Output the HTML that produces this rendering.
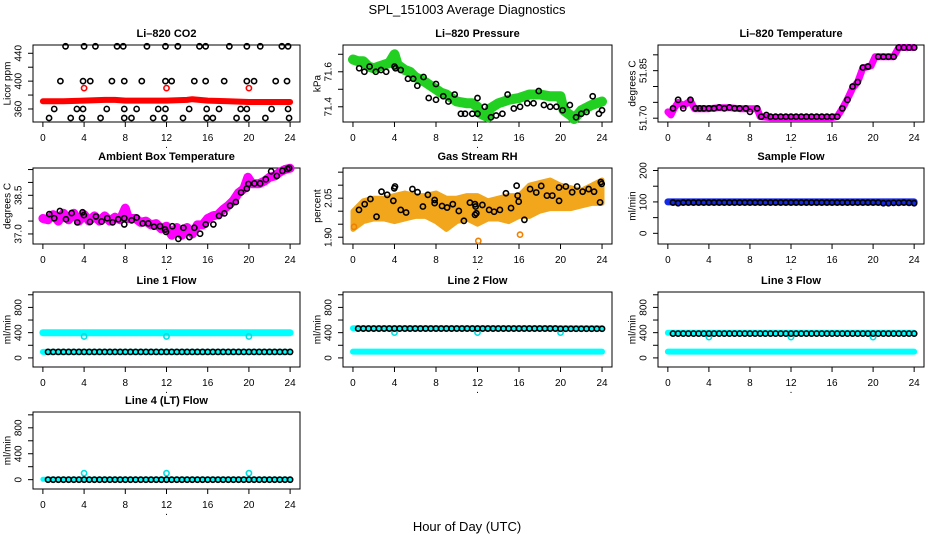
<!DOCTYPE html>
<html><head><meta charset="utf-8"><style>
html,body{margin:0;padding:0;background:#fff;}
svg{display:block;font-family:"Liberation Sans",sans-serif;}
</style></head><body>
<svg id="chart" width="936" height="540" viewBox="0 0 936 540" xmlns="http://www.w3.org/2000/svg">
<text x="467" y="14" font-size="13" text-anchor="middle">SPL_151003  Average Diagnostics</text>
<text x="467" y="531" font-size="13" text-anchor="middle">Hour of Day (UTC)</text>
</svg>
<script>
// ---------- data ----------
const xTicks = [0,4,8,12,16,20,24];
const halfHours = [0.5,1,1.5,2,2.5,3,3.5,4,4.5,5,5.5,6,6.5,7,7.5,8,8.5,9,9.5,10,10.5,11,11.5,12,12.5,13,13.5,14,14.5,15,15.5,16,16.5,17,17.5,18,18.5,19,19.5,20,20.5,21,21.5,22,22.5,23,23.5,24];

// CO2
const co2BandHours = [0,2,4,6,7,8,10,12,14,14.5,16,18,20,22,24];
const co2BandValues = [371,371,372,373,373,372,372,372,373,374,372,371,370,370,370];
const co2OutHours = [4,12,20];
const co2OutValues = [390,390,390];
const co2CircHours = [2.2,4.0,5.1,7.2,7.8,10.1,11.9,13.1,15.2,15.8,18.1,19.8,21.1,23.2,23.8, 1.7,3.9,4.6,6.7,7.9,9.6,11.9,12.5,14.7,15.8,17.6,19.8,20.5,22.6,23.7, 1.1,3.3,3.9,6.2,7.9,9.1,11.2,11.9,14.2,15.9,17.1,19.2,19.8,22.2,23.8, 0.6,2.7,3.8,5.6,7.9,8.6,10.7,11.8,13.6,15.9,16.5,18.8,19.8,21.6,23.9];
const co2CircValues = [450,450,450,450,450,450,450,450,450,450,450,450,450,450,450, 400,400,400,400,400,400,400,400,400,400,400,400,400,400,400, 360,360,360,360,360,360,360,360,360,360,360,360,360,360,360, 347,347,347,347,347,347,347,347,347,347,347,347,347,347,347];

// Pressure
const presBandHours = [0,0.5,1,1.5,2,2.5,3,3.5,4,4.3,5,5.5,6,7,7.5,8,8.5,9,9.5,10,11,11.5,12,12.3,13,13.2,14,15,16,17,18,19,20,20.3,21,21.3,22,23,24];
const presBandValues = [71.67,71.66,71.66,71.63,71.62,71.63,71.64,71.65,71.70,71.64,71.61,71.60,71.57,71.54,71.52,71.50,71.48,71.47,71.45,71.43,71.42,71.42,71.40,71.36,71.34,71.39,71.42,71.44,71.45,71.47,71.47,71.46,71.46,71.38,71.35,71.33,71.38,71.41,71.43];
const presCircHours = [0.6,1.1,1.6,2.2,2.7,3.2,4.0,4.1,4.6,5.3,5.8,6.2,6.8,7.3,8.0,8.0,8.7,9.2,9.8,10.4,10.8,11.5,12,12,12.7,13.3,13.8,14.4,14.9,15.5,16.1,16.8,17.4,17.9,18.4,19.0,19.6,20.2,20.9,21.5,22.0,22.5,23.1,23.7,24];
const presCircValues = [71.62,71.60,71.63,71.60,71.61,71.60,71.63,71.62,71.61,71.56,71.56,71.52,71.57,71.45,71.44,71.53,71.46,71.43,71.47,71.36,71.36,71.36,71.36,71.45,71.40,71.34,71.35,71.36,71.47,71.39,71.40,71.42,71.42,71.49,71.41,71.40,71.40,71.38,71.41,71.34,71.36,71.37,71.46,71.36,71.38];

// Li-820 temperature
const tempBandHours = [0,0.3,0.6,1,1.5,2,2.2,2.6,4,5,6,7,8,8.7,9.0,10,12,14,16,16.5,17,17.5,18,18.5,19,19.8,20.2,22,22.5,24];
const tempBandValues = [51.72,51.71,51.73,51.75,51.74,51.75,51.755,51.73,51.73,51.733,51.733,51.73,51.73,51.73,51.705,51.702,51.702,51.702,51.702,51.705,51.73,51.76,51.795,51.814,51.858,51.865,51.894,51.894,51.923,51.923];
const tempCircHours = [0.5,1,1.5,2.2,2.7,3.1,3.5,4,4.5,5,5.5,6,6.5,7,7.6,8,8.7,9.1,9.6,10,10.5,11,11.5,12,12.5,13,13.5,14,14.5,15,15.5,16,16.5,17,17.5,18,18.5,19,19.5,20.5,21,21.5,22,22.5,23,23.5,24];
const tempCircValues = [51.731,51.758,51.731,51.758,51.731,51.731,51.731,51.731,51.731,51.734,51.731,51.734,51.731,51.731,51.731,51.72,51.731,51.705,51.71,51.705,51.705,51.705,51.705,51.705,51.705,51.705,51.705,51.705,51.705,51.705,51.705,51.705,51.705,51.731,51.758,51.80,51.814,51.86,51.863,51.894,51.894,51.894,51.894,51.923,51.923,51.923,51.923];

// Ambient box temperature
const ambBandHours = [0,0.5,1,1.5,2,2.5,3,3.5,4,4.5,5,5.5,6,6.5,7,7.5,8,8.3,9,9.5,10,10.5,11,11.5,12,12.5,13,13.5,14,14.5,15,15.5,16,16.5,17,17.5,18,18.5,19,19.5,19.9,20.3,21,21.5,22,22.5,23,23.5,24];
const ambBandValues = [37.6,37.55,37.75,37.5,37.8,37.55,37.8,37.5,37.75,37.5,37.7,37.5,37.7,37.5,37.65,37.55,38.0,37.6,37.6,37.45,37.5,37.35,37.4,37.2,37.3,36.95,37.25,36.95,37.25,37.0,37.35,37.35,37.6,37.7,37.75,37.95,38.1,38.3,38.6,38.75,39.2,38.95,38.95,39.05,39.2,39.25,39.4,39.5,39.55];
const ambCircHours = [0.62,1.1,1.65,2.24,2.79,3.34,3.85,3.98,4.57,5.15,5.7,6.25,6.77,7.32,7.9,7.9,8.62,9.1,9.69,10.23,10.79,11.37,11.86,11.95,12.57,13.15,13.64,14.22,14.7,15.26,15.81,16.55,17.1,17.62,18.17,18.73,19.24,19.8,19.95,20.53,21.09,21.64,22.16,22.71,23.25,23.74,23.91];
const ambCircValues = [37.77,37.61,37.89,37.57,37.81,37.45,37.84,37.73,37.47,37.68,37.48,37.61,37.45,37.57,37.61,37.37,37.53,37.64,37.41,37.41,37.28,37.30,37.17,37.08,37.30,36.81,37.24,36.88,37.24,37.01,37.37,37.37,37.70,37.80,38.10,38.24,38.61,38.76,38.94,38.96,38.96,39.12,39.43,39.25,39.45,39.52,39.56];

// Gas stream RH
const rhBandHours = [0,1,2,3,4,5,6,7,8,9,10,11,12,13,14,15,16,17,18,19,20,21,22,23,24];
const rhLower = [1.93,1.96,1.97,1.97,1.96,1.97,1.98,1.98,1.96,1.93,1.96,1.97,1.95,1.97,1.97,1.96,1.98,1.98,2.00,2.01,2.01,2.01,2.02,2.03,2.03];
const rhUpper = [2.00,2.04,2.05,2.05,2.06,2.07,2.06,2.06,2.07,2.05,2.05,2.06,2.06,2.04,2.05,2.06,2.06,2.10,2.11,2.12,2.10,2.09,2.08,2.10,2.12];
const rhOutHours = [0.1,12.08,16.1];
const rhOutValues = [1.94,1.886,1.91];
const rhCircHours = [0.58,1.13,1.68,2.27,2.75,3.3,3.89,3.98,4.05,4.6,5.12,5.73,6.22,6.74,7.22,7.87,7.87,8.58,9.07,9.62,10.2,10.69,11.27,11.76,11.82,11.76,11.89,12.47,13.12,13.6,14.16,14.74,15.23,15.77,15.87,15.97,16.52,17.07,17.66,18.14,18.69,19.21,19.86,19.86,20.51,21.12,21.6,22.13,22.71,23.23,23.81,23.88,23.97];
const rhCircValues = [2.005,2.027,2.047,1.979,2.075,2.063,2.04,2.088,2.095,2.005,1.995,2.085,2.073,2.018,2.063,2.043,2.031,2.02,2.014,2.027,2.001,1.963,2.033,2.027,2.018,1.986,1.992,2.024,2.005,1.998,2.005,2.069,2.012,2.098,2.06,2.037,1.967,2.085,2.072,2.097,2.06,2.06,2.091,2.04,2.095,2.073,2.095,2.075,2.085,2.075,2.034,2.112,2.105];

// Sample flow
const sampleBandHours = [0,24];
const sampleBandValues = [100,100];
const sampleCircValues = [98,96,98,98,98,98,98,98,98,98,98,98,98,98,98,98,98,98,98,98,98,98,98,98,98,98,98,98,98,98,98,98,98,98,98,98,98,98,98,98,98,96,96,97,97,98,97,96];

// Line flows
const flowHours = [0,24];
const line1High = [400,400];
const line1Low = [95,95];
const line1CircValues = [95,95,95,95,95,95,95,95,95,95,95,95,95,95,95,95,95,95,95,95,95,95,95,95,95,95,95,95,95,95,95,95,95,95,95,95,95,95,95,95,95,95,95,95,95,95,95,95];
const line1OutHours = [4,12,20];
const line1OutValues = [340,340,340];
const line2Band = [100,100];
const line2High = [470,470];
const line2CircValues = [465,465,465,465,465,465,465,465,465,465,465,465,465,465,465,465,465,465,465,465,465,465,465,465,465,465,465,465,465,465,465,465,465,465,465,465,465,465,465,462,462,462,462,462,462,462,462,462];
const line2OutHours = [4,12,20];
const line2OutValues = [400,400,400];
const line3Band = [100,100];
const line3High = [400,400];
const line3CircValues = [385,385,385,385,385,385,385,385,385,385,385,385,385,385,385,385,385,385,385,385,385,385,385,385,385,385,385,385,385,385,385,385,385,385,385,385,385,385,385,385,385,385,385,385,385,385,385,385];
const line3OutHours = [4,12,20];
const line3OutValues = [330,330,330];
const line4Band = [5,5];
const line4CircValues = [0,0,0,0,0,0,0,0,0,0,0,0,0,0,0,0,0,0,0,0,0,0,0,0,0,0,0,0,0,0,0,0,0,0,0,0,0,0,0,0,0,0,0,0,0,0,0,0];
const line4OutHours = [4,12,20];
const line4OutValues = [100,100,100];

// ---------- drawing ----------
const NS = "http://www.w3.org/2000/svg";
const svg = document.getElementById('chart');
const colL = [33,343,658], colR = [300,612,924];
const rowT = [45,168,292,412], rowB = [122,244,367,489];
const XMIN = -0.96, XMAX = 24.96;

function el(tag, attrs, parent) {
  const e = document.createElementNS(NS, tag);
  for (const k in attrs) e.setAttribute(k, attrs[k]);
  (parent || svg).appendChild(e);
  return e;
}

function panel(c, r, ylim, yTicks, yLabels, title, ylab, name) {
  const L = colL[c], R = colR[c], T = rowT[r], B = rowB[r];
  const g = el('g', {});
  
  
  const sx = h => L + (h - XMIN) / (XMAX - XMIN) * (R - L);
  const sy = v => B - (v - ylim[0]) / (ylim[1] - ylim[0]) * (B - T);
  const t = el('text', {x: (L + R) / 2, y: T - 8, 'font-size': 11, 'font-weight': 'bold', 'text-anchor': 'middle'}, g);
  t.textContent = title;
  
  
  const ax = el('g', {stroke: '#000', 'stroke-width': 1}, g);
  
  
  el('line', {x1: sx(0), x2: sx(24), y1: B, y2: B}, ax);
  xTicks.forEach(v => {
    el('line', {x1: sx(v), x2: sx(v), y1: B, y2: B + 5}, ax);
    const tl = el('text', {x: sx(v), y: B + 19, 'font-size': 10, 'text-anchor': 'middle', stroke: 'none'}, ax);
    tl.textContent = v;
    
    
  });
  const dot = el('text', {x: (L + R) / 2, y: B + 26, 'font-size': 10, 'text-anchor': 'middle'}, g);
  dot.textContent = '.';
  
  
  const ay = el('g', {stroke: '#000', 'stroke-width': 1}, g);
  
  
  yTicks.forEach(v => {
    el('line', {x1: L - 5, x2: L, y1: sy(v), y2: sy(v)}, ay);
  });
  el('line', {x1: L, x2: L, y1: sy(yTicks[0]), y2: sy(yTicks[yTicks.length - 1])}, ay);
  yLabels.forEach(v => {
    const yy = sy(v);
    const tl = el('text', {x: L - 11.5, y: yy, 'font-size': 10, 'text-anchor': 'middle', stroke: 'none', transform: `rotate(-90 ${L - 11.5} ${yy})`}, ay);
    tl.textContent = v;
    
    
  });
  const yl = el('text', {x: L - 22.5, y: (T + B) / 2, 'font-size': 10, 'text-anchor': 'middle', transform: `rotate(-90 ${L - 22.5} ${(T + B) / 2})`}, g);
  yl.textContent = ylab;
  
  
  const box = el('rect', {x: L, y: T, width: R - L, height: B - T, fill: 'none', stroke: '#000', 'stroke-width': 1}, g);
  
  
  return {sx, sy, g};
}

function band(p, hs, vs, color, w, name) {
  const pts = hs.map((h, i) => p.sx(h).toFixed(1) + ',' + p.sy(vs[i]).toFixed(1)).join(' ');
  const pl = el('polyline', {points: pts, fill: 'none', stroke: color, 'stroke-width': w, 'stroke-linejoin': 'round', 'stroke-linecap': 'round'}, p.g);
  
  
}
function area(p, hs, lo, hi, color, name) {
  const up = hs.map((h, i) => p.sx(h).toFixed(1) + ',' + p.sy(hi[i]).toFixed(1));
  const dn = hs.map((h, i) => p.sx(h).toFixed(1) + ',' + p.sy(lo[i]).toFixed(1)).reverse();
  const pg = el('polygon', {points: up.concat(dn).join(' '), fill: color, stroke: color, 'stroke-width': 5, 'stroke-linejoin': 'round'}, p.g);
  
  
}
function circles(p, hs, vs, color, name) {
  const g = el('g', {fill: 'none', stroke: color, 'stroke-width': 1.6}, p.g);
  
  
  hs.forEach((h, i) => {
    const c = el('circle', {cx: p.sx(h), cy: p.sy(vs[i]), r: 2.6}, g);
    
    
  });
}

// CO2
let p = panel(0, 0, [341.3, 451.9], [360,380,400,420,440], [360,400,440], 'Li\u2013820 CO2', 'Licor ppm', 'co2');
band(p, co2BandHours, co2BandValues, '#ff0000', 6, 'co2-band');
circles(p, co2OutHours, co2OutValues, '#ff0000', 'co2-outliers');
circles(p, co2CircHours, co2CircValues, '#000', 'co2-averages');

// Pressure
p = panel(1, 0, [71.313, 71.753], [71.4,71.5,71.6,71.7], [71.4,71.6], 'Li\u2013820 Pressure', 'kPa', 'pressure');
band(p, presBandHours, presBandValues, '#22d022', 10, 'pressure-band');
circles(p, presCircHours, presCircValues, '#000', 'pressure-averages');

// Li-820 temperature
p = panel(2, 0, [51.688, 51.931], [51.70,51.75,51.80,51.85,51.90], ['51.70','51.85'], 'Li\u2013820 Temperature', 'degrees C', 'li820-temp');
band(p, tempBandHours, tempBandValues, '#ff00ff', 7, 'li820-temp-band');
circles(p, tempCircHours, tempCircValues, '#000', 'li820-temp-averages');

// Ambient
p = panel(0, 1, [36.61, 39.56], [37,37.5,38,38.5,39,39.5], ['37.0','38.5'], 'Ambient Box Temperature', 'degrees C', 'ambient-temp');
band(p, ambBandHours, ambBandValues, '#ff00ff', 9, 'ambient-temp-band');
circles(p, ambCircHours, ambCircValues, '#000', 'ambient-temp-averages');

// RH
p = panel(1, 1, [1.874, 2.166], [1.90,1.95,2.00,2.05,2.10,2.15], ['1.90','2.05'], 'Gas Stream RH', 'percent', 'rh');
area(p, rhBandHours, rhLower, rhUpper, '#f2a61c', 'rh-band');
circles(p, rhOutHours, rhOutValues, '#f08000', 'rh-outliers');
circles(p, rhCircHours, rhCircValues, '#000', 'rh-averages');

// Sample flow
p = panel(2, 1, [-34, 208], [0,50,100,150,200], [0,100,200], 'Sample Flow', 'ml/min', 'sample-flow');
band(p, sampleBandHours, sampleBandValues, '#1428e8', 7, 'sample-flow-band');
circles(p, halfHours, sampleCircValues, '#000', 'sample-flow-averages');

const fl = [-144, 1044], ft = [0,200,400,600,800,1000], flb = [0,400,800];
// Line 1
p = panel(0, 2, fl, ft, flb, 'Line 1 Flow', 'ml/min', 'line1-flow');
band(p, flowHours, line1High, '#00ffff', 7, 'line1-high-band');
band(p, flowHours, line1Low, '#00ffff', 6, 'line1-low-band');
circles(p, line1OutHours, line1OutValues, '#00e0e0', 'line1-outliers');
circles(p, halfHours, line1CircValues, '#000', 'line1-averages');
// Line 2
p = panel(1, 2, fl, ft, flb, 'Line 2 Flow', 'ml/min', 'line2-flow');
band(p, flowHours, line2Band, '#00ffff', 6, 'line2-low-band');
band(p, flowHours, line2High, '#00ffff', 6, 'line2-high-band');
circles(p, line2OutHours, line2OutValues, '#00e0e0', 'line2-outliers');
circles(p, halfHours, line2CircValues, '#000', 'line2-averages');
// Line 3
p = panel(2, 2, fl, ft, flb, 'Line 3 Flow', 'ml/min', 'line3-flow');
band(p, flowHours, line3Band, '#00ffff', 6, 'line3-low-band');
band(p, flowHours, line3High, '#00ffff', 6, 'line3-high-band');
circles(p, line3OutHours, line3OutValues, '#00e0e0', 'line3-outliers');
circles(p, halfHours, line3CircValues, '#000', 'line3-averages');
// Line 4
p = panel(0, 3, fl, ft, flb, 'Line 4 (LT) Flow', 'ml/min', 'line4-flow');
band(p, flowHours, line4Band, '#00ffff', 5, 'line4-band');
circles(p, line4OutHours, line4OutValues, '#00e0e0', 'line4-outliers');
circles(p, halfHours, line4CircValues, '#000', 'line4-averages');
</script>
</body></html>
